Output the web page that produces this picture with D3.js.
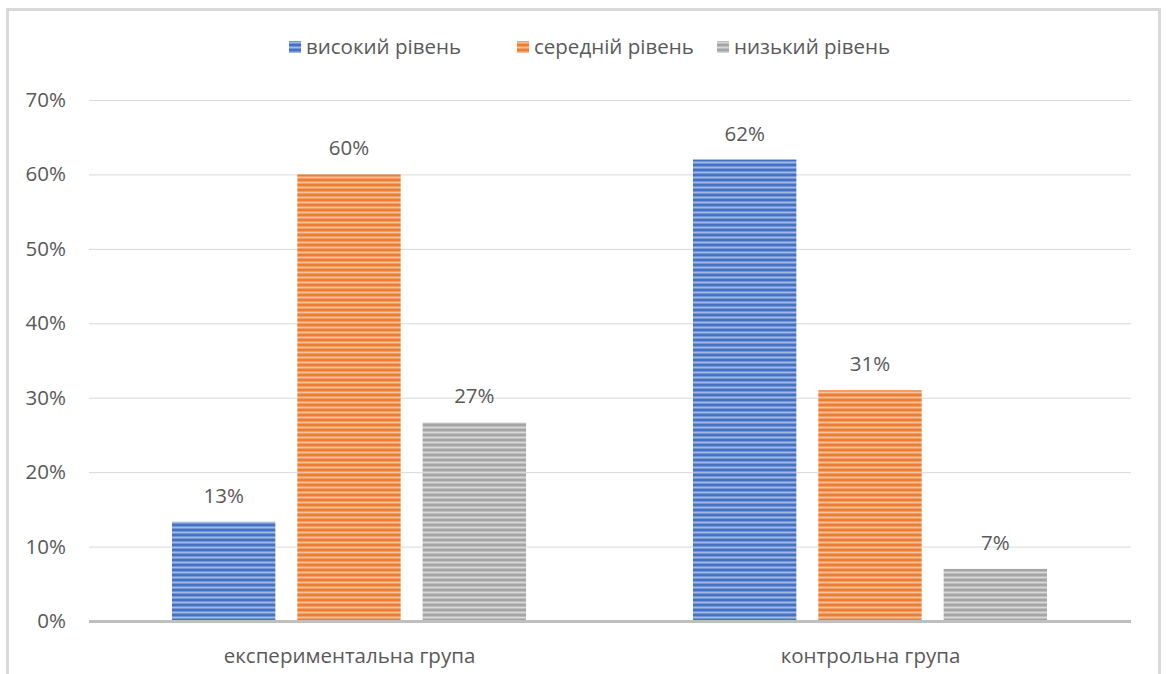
<!DOCTYPE html>
<html><head><meta charset="utf-8">
<script src="https://cdn.jsdelivr.net/npm/d3@7"></script>
<style>
html,body{margin:0;padding:0;background:#fff;}
text{font-family:"Open Sans","Noto Sans",sans-serif;fill:#595959;}
</style></head>
<body>
<svg id="chart" width="1166" height="674"></svg>
<script>
const categories = ["експериментальна група", "контрольна група"];
const seriesNames = ["високий рівень", "середній рівень", "низький рівень"];
const seriesHigh = [0.1333, 0.62];
const seriesMid = [0.60, 0.31];
const seriesLow = [0.2667, 0.07];
const valueLabels = [["13%", "60%", "27%"], ["62%", "31%", "7%"]];
const yTicks = [0, 0.1, 0.2, 0.3, 0.4, 0.5, 0.6, 0.7];
const colors = ["#4472C4", "#ED7D31", "#A5A5A5"];
const lightColors = ["#A3B9E4", "#F6C09B", "#D8D8D8"];

(function () {
const FS = 20.5;
const svg = d3.select("#chart");
// border
svg.append("rect").attr("x", 7.5).attr("y", 9.5).attr("width", 1152).attr("height", 700)
  .attr("fill", "#fff").attr("stroke", "#D9D9D9").attr("stroke-width", 3);

const defs = svg.append("defs");
colors.forEach((c, i) => {
  const p = defs.append("pattern").attr("id", "pat" + i).attr("patternUnits", "userSpaceOnUse")
    .attr("width", 10).attr("height", 5);
  p.append("rect").attr("width", 10).attr("height", 5).attr("fill", c);
  p.append("rect").attr("y", 1.5).attr("width", 10).attr("height", 2).attr("fill", lightColors[i]);
});

const pl = 89, pr = 1131, pt = 100, pb = 621;
const y = d3.scaleLinear().domain([0, 0.7]).range([pb, pt]);
const x0 = d3.scaleBand().domain(categories).range([pl, pr]).paddingInner(0).paddingOuter(0);
const x1 = d3.scaleBand().domain(seriesNames).range([83, 83 + 354]).paddingInner(22 / 125.5).paddingOuter(0);

// grid
svg.append("g").selectAll("line").data(yTicks.slice(1)).join("line")
  .attr("x1", pl).attr("x2", pr).attr("y1", d => y(d) + 0.5).attr("y2", d => y(d) + 0.5)
  .attr("stroke", "#D9D9D9").attr("stroke-width", 1);

// y labels
const yAxis = d3.axisLeft(y).tickValues(yTicks).tickFormat(d3.format(".0%")).tickSize(0).tickPadding(0);
const ga = svg.append("g").attr("transform", `translate(66,0)`).call(yAxis);
ga.select(".domain").remove();
ga.selectAll("text").attr("font-size", FS).attr("fill", "#595959")
  .attr("font-family", "'Open Sans','Noto Sans',sans-serif");

const allSeries = [seriesHigh, seriesMid, seriesLow];
const data = [];
categories.forEach((c, ci) => seriesNames.forEach((s, si) => data.push({c, s, si, ci, v: allSeries[si][ci], label: valueLabels[ci][si]})));

svg.append("g").selectAll("rect").data(data).join("rect")
  .attr("x", d => x0(d.c) + x1(d.s)).attr("width", x1.bandwidth())
  .attr("y", d => y(d.v)).attr("height", d => y(0) - y(d.v))
  .attr("fill", d => `url(#pat${d.si})`);

svg.append("g").selectAll("text").data(data).join("text")
  .attr("x", d => x0(d.c) + x1(d.s) + x1.bandwidth() / 2).attr("y", d => y(d.v) - 19)
  .attr("text-anchor", "middle").attr("font-size", FS).text(d => d.label);

// baseline
svg.append("line").attr("x1", pl).attr("x2", pr).attr("y1", pb + 0.5).attr("y2", pb + 0.5)
  .attr("stroke", "#BFBFBF").attr("stroke-width", 3);

// x labels
const xAxis = d3.axisBottom(x0).tickSize(0).tickPadding(0);
const gx = svg.append("g").attr("transform", `translate(0,${pb + 42})`).call(xAxis);
gx.select(".domain").remove();
gx.selectAll("text").attr("font-size", FS).attr("fill", "#595959").attr("dy", 0)
  .attr("font-family", "'Open Sans','Noto Sans',sans-serif");

// legend
const legendX = [289, 517, 717];
const lg = svg.append("g");
seriesNames.forEach((s, i) => {
  lg.append("rect").attr("x", legendX[i]).attr("y", 41).attr("width", 12).attr("height", 12)
    .attr("fill", `url(#pat${i})`);
  lg.append("text").attr("x", legendX[i] + 17).attr("y", 54).attr("font-size", FS).text(s);
});
})();
</script>
</body></html>
